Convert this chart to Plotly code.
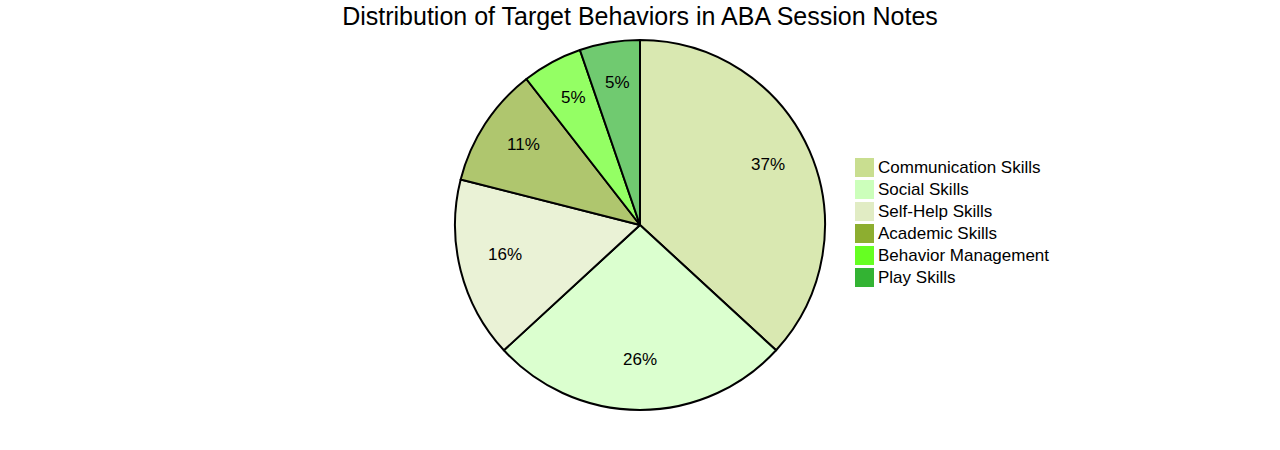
import math
import plotly.graph_objects as go

categories = ["Communication Skills", "Social Skills", "Self-Help Skills",
              "Academic Skills", "Behavior Management", "Play Skills"]
values = [35, 25, 15, 10, 5, 5]
colors = ["#C9DE90", "#CCFFBB", "#E1ECC4", "#8DAE30", "#66FF22", "#33B333"]

ALPHA = 0.7


def blend(hexc, a=ALPHA):
    h = hexc.lstrip("#")
    r, g, b = (int(h[i:i + 2], 16) for i in (0, 2, 4))
    f = lambda c: round(a * c + (1 - a) * 255)
    return f"rgb({f(r)},{f(g)},{f(b)})"


slice_colors = [blend(c) for c in colors]

W, H = 1280, 450
MT, MB = 40, 40
PH = H - MT - MB
R = PH / 2  # pie radius in px

fig = go.Figure(go.Pie(
    labels=categories,
    values=values,
    sort=False,
    direction="clockwise",
    rotation=0,
    marker=dict(colors=slice_colors, line=dict(color="black", width=2)),
    textinfo="none",
    hoverinfo="label+percent",
    showlegend=False,
    domain=dict(x=[0, 1], y=[0, 1]),
))

# percent labels placed along each slice bisector
total = sum(values)
cum = 0
annotations = []
for v in values:
    mid = (cum + v / 2) / total * 2 * math.pi
    cum += v
    rr = 0.754 * R
    annotations.append(dict(
        x=0.5 + rr * math.sin(mid) / W,
        y=0.5 + rr * math.cos(mid) / PH,
        xref="paper", yref="paper", yshift=4.5,
        text=f"{round(v / total * 100)}%",
        showarrow=False, font=dict(size=17, color="black"),
        xanchor="center", yanchor="middle",
    ))

# legend: solid swatches + labels
shapes = []
LX0, LY0, SW, STEP = 855, 158, 19, 22
for i, (lab, c) in enumerate(zip(categories, colors)):
    top = LY0 + i * STEP
    shapes.append(dict(
        type="rect", xref="paper", yref="paper",
        x0=LX0 / W, x1=(LX0 + SW) / W,
        y0=(H - MB - (top + SW)) / PH, y1=(H - MB - top) / PH,
        fillcolor=c, line=dict(width=0),
    ))
    annotations.append(dict(
        x=(LX0 + SW + 2) / W, y=(H - MB - (top + SW / 2)) / PH,
        xref="paper", yref="paper", text=lab, showarrow=False,
        xanchor="left", yanchor="middle", font=dict(size=17, color="black"),
    ))

fig.update_layout(
    width=W, height=H,
    title=dict(text="Distribution of Target Behaviors in ABA Session Notes",
               x=0.5, xanchor="center", yref="container", y=1 - 16 / H,
               yanchor="middle", font=dict(size=25, color="black")),
    font=dict(family="Liberation Sans, Arial, sans-serif", size=17, color="black"),
    margin=dict(l=0, r=0, t=MT, b=MB),
    annotations=annotations,
    shapes=shapes,
    paper_bgcolor="white",
)

fig.write_html("out.html")
